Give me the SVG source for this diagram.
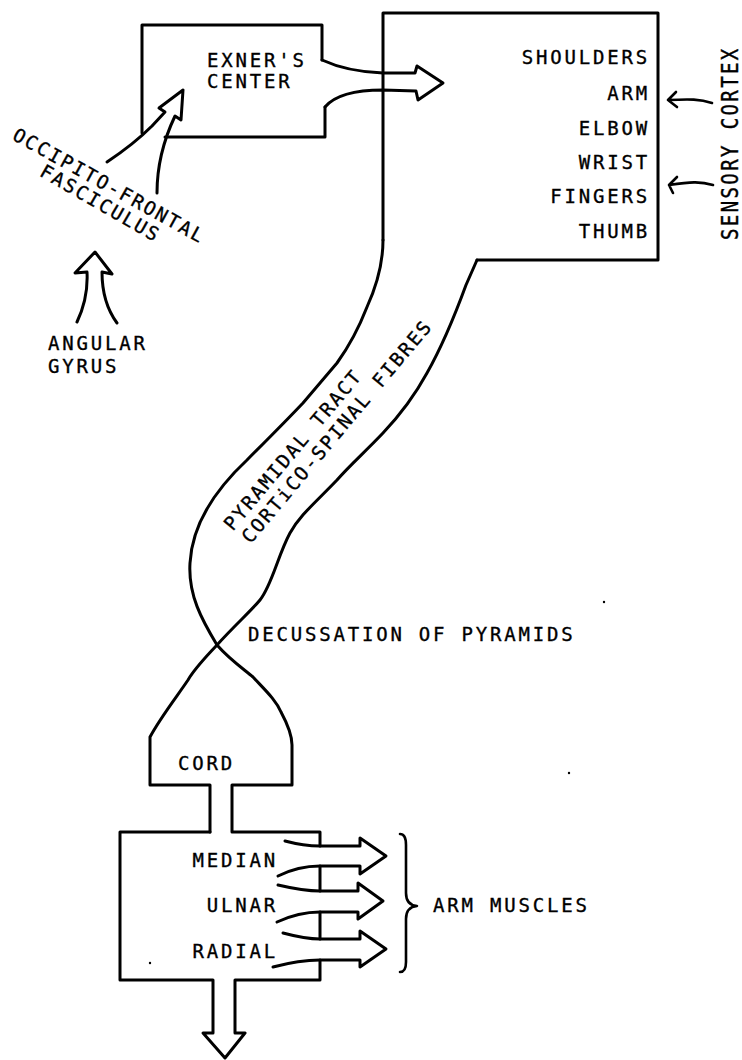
<svg xmlns="http://www.w3.org/2000/svg" width="742" height="1060" viewBox="0 0 742 1060">
<style>
.ln{fill:none;stroke:#000;stroke-width:3;stroke-linecap:round;stroke-linejoin:round}
.thin{fill:none;stroke:#000;stroke-width:2.6;stroke-linecap:round;stroke-linejoin:round}
text{font-family:"DejaVu Sans Mono","Liberation Mono",monospace;font-size:19px;fill:#000;stroke:#000;stroke-width:0.35px;letter-spacing:2.8px}
.rt{letter-spacing:2.1px}
.end{text-anchor:end}
.mid{text-anchor:middle}
</style>
<rect width="742" height="1060" fill="#fff"/>
<g id="exner">
<path class="ln" d="M142,133 L142,25 L322,25 L322,60 M325,107 L325,137 L165,137"/>
<text x="207" y="67">EXNER'S</text>
<text x="207" y="88">CENTER</text>
</g>
<g id="cortex">
<path class="ln" d="M383,240 L383,13 L658,13 L658,260 L477,260"/>
<text class="end" x="650" y="64">SHOULDERS</text>
<text class="end" x="650" y="100">ARM</text>
<text class="end" x="650" y="135">ELBOW</text>
<text class="end" x="650" y="169">WRIST</text>
<text class="end" x="650" y="203">FINGERS</text>
<text class="end" x="650" y="238">THUMB</text>
</g>
<g id="sensory">
<text transform="translate(738,240) rotate(-90) scale(1,1.18)" style="letter-spacing:2.4px">SENSORY CORTEX</text>
</g>
<g id="occipito">
<text class="mid rt" transform="translate(106,191.5) rotate(29)">OCCIPITO-FRONTAL</text>
<text class="mid rt" transform="translate(97,209) rotate(30)">FASCICULUS</text>
</g>
<g id="angular">
<text x="48" y="350">ANGULAR</text>
<text x="48" y="373">GYRUS</text>
</g>
<g id="tract">
<path class="ln" d="M383,240 C383,265 377,285 367,307 C360,325 350,345 337,363 L303,403 C285,422 265,442 247,460 C215,490 192,525 190,563 C188,595 202,620 217,645 C230,660 245,670 253,677 C265,690 276,700 281,712 C288,725 292,735 292,745 L292,785 L232,785 L232,832 L320,832 L320,846"/>
<path class="ln" d="M477,260 L466,285 C455,315 440,350 427,373 C415,395 400,415 383,433 C365,452 350,465 337,480 C315,503 300,515 290,533 C278,555 272,585 260,600 C250,612 235,625 217,645 C205,658 195,668 188,680 C178,695 160,718 150,737 L150,785 L210,785 L210,832"/>
<text class="mid rt" transform="translate(298,454) rotate(-50)">PYRAMIDAL TRACT</text>
<text class="mid rt" transform="translate(342,435.5) rotate(-50)">CORTiCO-SPINAL FIBRES</text>
</g>
<g id="decussation">
<text x="248" y="641">DECUSSATION OF PYRAMIDS</text>
</g>
<g id="cord">
<text x="178" y="770">CORD</text>
</g>
<g id="nerves">
<path class="ln" d="M210,832 L120,832 L120,980 L213,980 L213,1033 L203,1033 L225,1058 L245,1033 L235,1033 L235,980 L320,980 L320,960 M320,939 L320,912 M320,891 L320,866"/>
<text class="end" x="278" y="867">MEDIAN</text>
<text class="end" x="278" y="912">ULNAR</text>
<text class="end" x="278" y="958">RADIAL</text>
</g>
<g id="muscles">
<path class="thin" d="M400,834 Q406,834 406,845 L406,893 Q406,905 417,906 Q406,907 406,919 L406,962 Q406,972 400,972"/>
<text x="433" y="912">ARM MUSCLES</text>
</g>
<g id="connectors">
<path class="ln" d="M322,60 C335,66 355,72 383,73 L415,73 L417,66 L443,83 L418,100 L416,91 L383,90 C355,90 335,95 325,107"/>
<path class="ln" d="M107,162 C122,152 140,138 152,126 L165,112 L159,108 L183,90 L181,120 L175,116 C166,135 157,160 157,193"/>
<path class="ln" d="M77,322 C85,305 88,290 87,272 L75,273 L95,252 L112,274 L102,272 C102,290 106,308 117,323"/>
<path class="thin" d="M712,103 C700,99 690,99 668,100 M676,92 L668,100 L677,107"/>
<path class="thin" d="M713,185 C700,181 690,182 669,185 M677,177 L669,185 L673,193"/>
<path class="ln" d="M285,841 C300,845 310,846 320,846 L360,846 L360,838 L386,856 L360,874 L360,866 L320,866 C305,866 290,870 278,876"/>
<path class="ln" d="M278,885 C295,889 308,891 320,891 L358,891 L358,883 L383,901 L358,919 L358,912 L320,912 C305,912 290,916 277,922"/>
<path class="ln" d="M283,933 C298,937 310,939 320,939 L360,939 L360,931 L386,949 L360,967 L360,960 L320,960 C305,960 288,963 273,967"/>
</g>
<g id="specks" fill="#000">
<circle cx="604" cy="602" r="1.2"/>
<circle cx="569" cy="773" r="1.2"/>
<circle cx="150" cy="963" r="1.2"/>
</g>
</svg>
